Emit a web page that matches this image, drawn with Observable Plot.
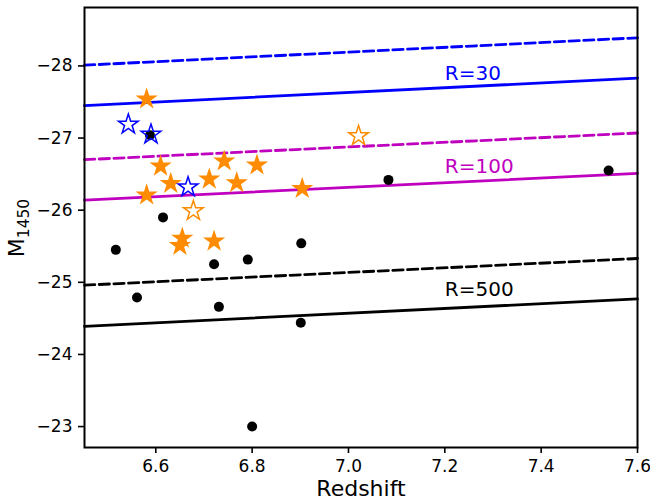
<!DOCTYPE html>
<html><head><meta charset="utf-8">
<script src="https://cdn.jsdelivr.net/npm/d3@7"></script>
<script src="https://cdn.jsdelivr.net/npm/@observablehq/plot@0.6"></script>
<style>body{margin:0;background:#fff} svg{display:block}</style>
</head><body><div id="chart"></div>
<script>
// Black dots
const dotZ = [6.517, 6.561, 6.588, 6.615, 6.721, 6.731, 6.791, 6.800, 6.902, 6.901, 7.083, 7.540];
const dotM = [-25.45, -24.79, -27.04, -25.90, -25.25, -24.66, -25.315, -23.00, -25.54, -24.44, -26.42, -26.55];
// Filled orange stars
const starZ = [6.581, 6.610, 6.631, 6.581, 6.711, 6.742, 6.768, 6.810, 6.904, 6.655, 6.650, 6.721];
const starM = [-27.54, -26.61, -26.37, -26.21, -26.43, -26.68, -26.38, -26.625, -26.30, -25.61, -25.51, -25.57];
// Open orange stars
const openOrangeZ = [6.678, 7.021];
const openOrangeM = [-25.99, -27.03];
// Open blue stars
const openBlueZ = [6.543, 6.590, 6.667];
const openBlueM = [-27.19, -27.05, -26.32];
// Limit lines (values at the two x ends)
const lineZ = [6.452, 7.6];
const blueDashed = [-28.01, -28.39];
const blueSolid = [-27.45, -27.83];
const magentaDashed = [-26.70, -27.07];
const magentaSolid = [-26.14, -26.51];
const blackDashed = [-24.96, -25.33];
const blackSolid = [-24.39, -24.77];
// Line labels
const labelText = ["R=30", "R=100", "R=500"];
const labelZ = [7.2, 7.2, 7.2];
const labelM = [-27.9, -26.6, -24.9];
const labelColor = ["#0000ff", "#bf00bf", "#000000"];
// Ticks
const xTicks = [6.6, 6.8, 7.0, 7.2, 7.4, 7.6];
const yTicks = [-28, -27, -26, -25, -24, -23];

const pts = (zs, ms) => zs.map((z, i) => ({z, m: ms[i]}));
const ln = (ms) => lineZ.map((z, i) => ({z, m: ms[i]}));
const labels = labelText.map((t, i) => ({t, z: labelZ[i], m: labelM[i], c: labelColor[i]}));

const W = 650, H = 502;
const lw = 2.8, dash = "10.3,4.4";
const plot = Plot.plot({
  width: W, height: H,
  marginLeft: 84, marginRight: 13, marginTop: 7, marginBottom: 55,
  style: {fontFamily: "DejaVu Sans", fontSize: "17px", background: "#fff", color: "#000"},
  x: {domain: [6.452, 7.6]},
  y: {domain: [-22.71, -28.81]},
  marks: [
    Plot.line(ln(blueDashed), {x: "z", y: "m", stroke: "#0000ff", strokeWidth: lw, strokeDasharray: dash}),
    Plot.line(ln(blueSolid), {x: "z", y: "m", stroke: "#0000ff", strokeWidth: lw}),
    Plot.line(ln(magentaDashed), {x: "z", y: "m", stroke: "#bf00bf", strokeWidth: lw, strokeDasharray: dash}),
    Plot.line(ln(magentaSolid), {x: "z", y: "m", stroke: "#bf00bf", strokeWidth: lw}),
    Plot.line(ln(blackDashed), {x: "z", y: "m", stroke: "#000", strokeWidth: lw, strokeDasharray: dash}),
    Plot.line(ln(blackSolid), {x: "z", y: "m", stroke: "#000", strokeWidth: lw}),
    Plot.dot(pts(dotZ, dotM), {x: "z", y: "m", r: 5, fill: "#000", stroke: "none"}),
    Plot.dot(pts(starZ, starM), {x: "z", y: "m", symbol: "star", r: 7, fill: "#ff8c00", stroke: "none"}),
    Plot.dot(pts(openOrangeZ, openOrangeM), {x: "z", y: "m", symbol: "star", r: 6.2, fill: "none", stroke: "#ff8c00", strokeWidth: 1.5}),
    Plot.dot(pts(openBlueZ, openBlueM), {x: "z", y: "m", symbol: "star", r: 6.2, fill: "none", stroke: "#0000ff", strokeWidth: 1.5}),
    Plot.text(labels, {x: "z", y: "m", text: "t", fill: "c", textAnchor: "start", fontSize: 20}),
    Plot.axisX({ticks: xTicks, tickFormat: d => d.toFixed(1), tickSize: 6, tickPadding: 6, strokeWidth: 1.6, fontSize: 17, label: null}),
    Plot.axisY({ticks: yTicks, tickFormat: d => (d < 0 ? "\u2212" : "") + Math.abs(d), tickSize: 6, tickPadding: 6, strokeWidth: 1.6, fontSize: 17, label: null}),
    Plot.frame({stroke: "#000", strokeWidth: 2})
  ]
});
document.getElementById("chart").appendChild(plot);

const svg = d3.select(plot);
svg.append("text")
  .attr("x", 361).attr("y", 496)
  .attr("text-anchor", "middle")
  .attr("font-family", "DejaVu Sans").attr("font-size", 22).attr("fill", "#000")
  .text("Redshift");
const yl = svg.append("text")
  .attr("transform", "translate(24,228) rotate(-90)")
  .attr("text-anchor", "middle")
  .attr("font-family", "DejaVu Sans").attr("font-size", 22).attr("fill", "#000");
yl.append("tspan").text("M");
yl.append("tspan").attr("font-size", 15.5).attr("dy", 5).text("1450");
</script>
</body></html>
